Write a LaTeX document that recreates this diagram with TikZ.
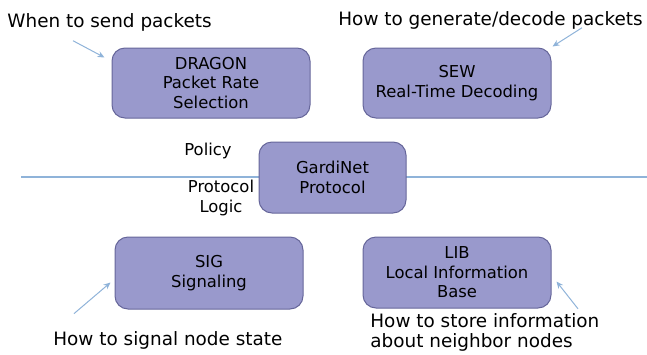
\documentclass[tikz,border=0pt]{standalone}
\usepackage{fontspec}
\setmainfont{DejaVu Sans}
\usepackage{xcolor}
\usetikzlibrary{calc}
\usetikzlibrary{arrows.meta}

\definecolor{blockfill}{HTML}{9999CC}
\definecolor{blockedge}{HTML}{66669A}
\definecolor{hintblue}{HTML}{8FB3D9}
\newcommand{\boxfont}{\fontsize{8.2}{9.7}\selectfont}
\newcommand{\notefont}{\fontsize{9.2}{9.9}\selectfont}

\tikzset{
  block/.style={draw=blockedge, fill=blockfill, rounded corners=6.5pt, align=center,
    font=\boxfont, inner sep=0pt, line width=0.5pt},
  note/.style={font=\notefont, inner sep=0pt, align=left},
  side/.style={font=\boxfont, inner sep=0pt, align=center},
  hint/.style={draw=hintblue, line width=0.5pt, -{Stealth[length=3.5pt, width=3pt]}},
  divider/.style={draw=hintblue, line width=0.75pt}
}

\begin{document}
\begin{tikzpicture}[x=0.5pt, y=-0.5pt]
  \useasboundingbox (0,0) rectangle (647,354);

  % layer split
  \coordinate (divL) at (21,177);
  \coordinate (divR) at (647,177);
  \draw[divider] (divL) -- (divR);

  % modules
  \node[block, minimum width=99pt, minimum height=35pt] (dragon) at (211,83)
    {DRAGON\\ Packet Rate\\Selection};
  \node[block, minimum width=94pt, minimum height=35pt] (sew) at (457,83)
    {SEW\\Real-Time Decoding};
  \node[block, minimum width=73.5pt, minimum height=35.5pt] (gardinet) at (332.5,177.5)
    {GardiNet\\Protocol};
  \node[block, minimum width=94pt, minimum height=36pt] (sig) at (209,273)
    {SIG\\Signaling};
  \node[block, minimum width=94pt, minimum height=35.5pt] (lib) at (457,272.5)
    {LIB\\Local Information\\Base};

  % layer labels
  \node[side, anchor=base] (policy) at (208,155) {Policy};
  \node[side, anchor=base] (logic) at (221,212) {Protocol\\Logic};

  % what each module answers
  \node[note, anchor=base west] (when) at (7,27.5) {When to send packets};
  \node[note, anchor=base west] (how) at (338,25.5) {How to generate/decode packets};
  \node[note, anchor=base west] (signal) at (53,345) {How to signal node state};
  \node[note, anchor=base west] (store) at (370,347) {How to store information\\about neighbor nodes};

  \draw[hint] ($(when.south west)+(66,9)$) -- ($(dragon.north west)+(-7,10)$);
  \draw[hint] ($(how.south west)+(244,-2)$) -- ($(sew.north east)+(1,-1)$);
  \draw[hint] ($(signal.north west)+(21,-17)$) -- ($(sig.north west)+(-4,46)$);
  \draw[hint] ($(store.north west)+(208,-4)$) -- ($(lib.south east)+(5,-27)$);
\end{tikzpicture}
\end{document}
